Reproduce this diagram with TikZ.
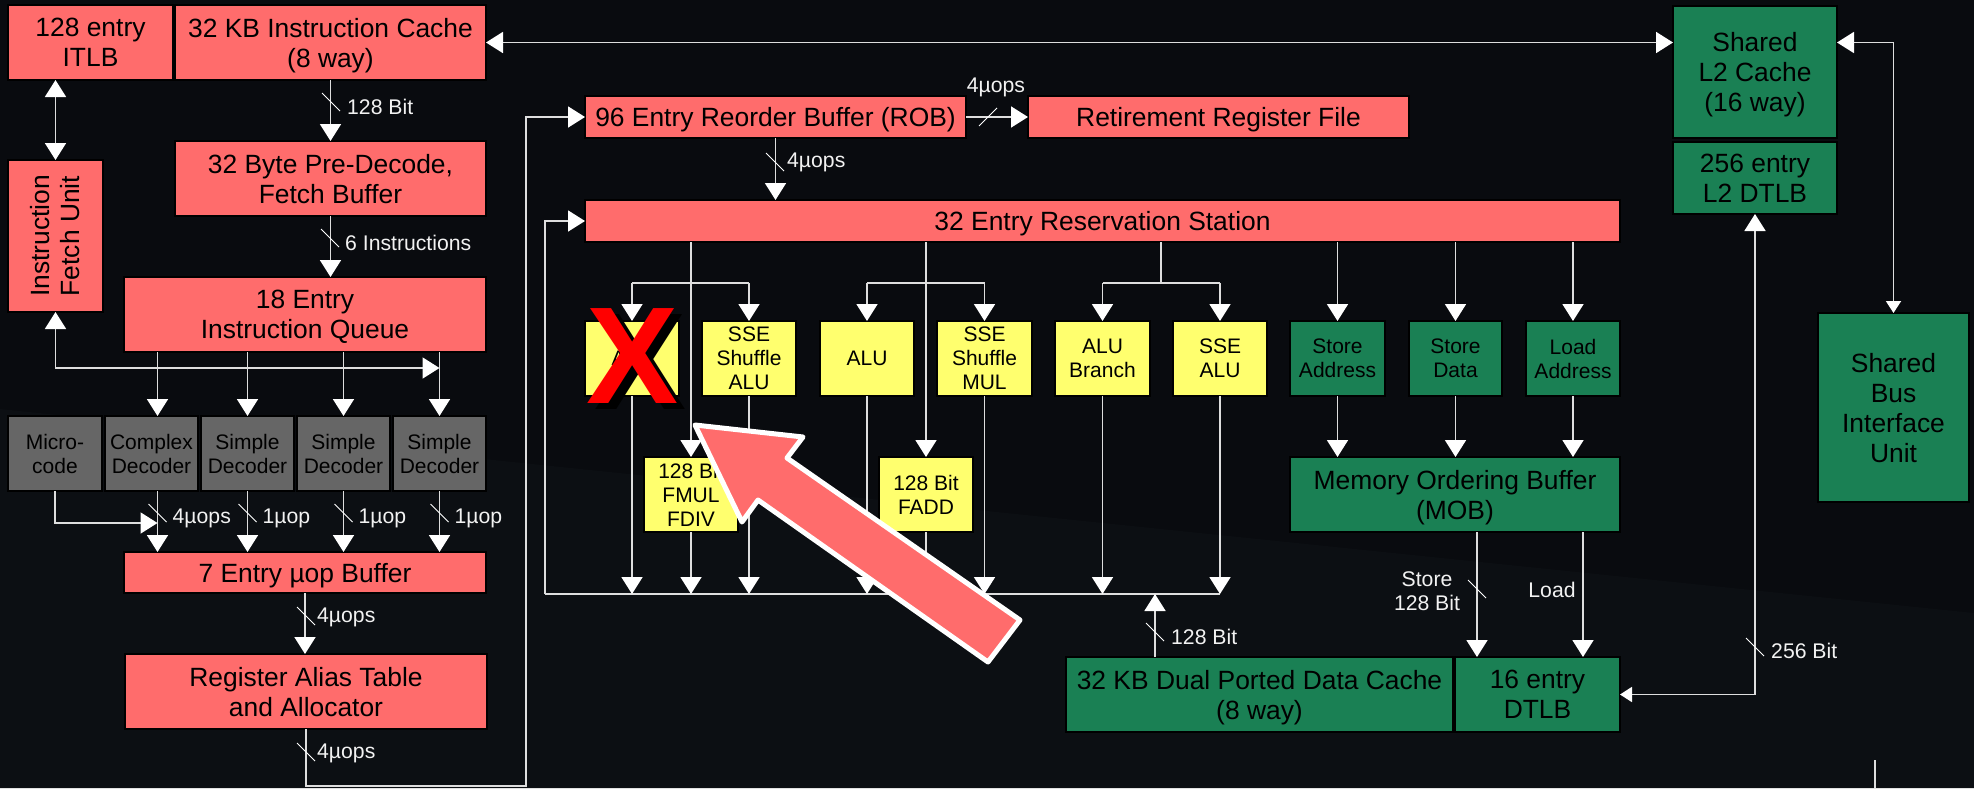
\documentclass[tikz,border=0pt]{standalone}
\usepackage{fontspec}
\setmainfont{Liberation Sans}
\usetikzlibrary{arrows.meta,calc}

\definecolor{bgbase}{RGB}{9,11,15}
\definecolor{bglow}{RGB}{12,15,19}
\definecolor{salmon}{RGB}{255,108,108}
\definecolor{lemon}{RGB}{255,255,110}
\definecolor{jade}{RGB}{26,128,84}
\definecolor{slate}{RGB}{102,102,102}
\definecolor{wire}{RGB}{222,222,222}
\definecolor{lbltext}{RGB}{242,242,242}
\definecolor{xred}{RGB}{255,0,0}

% place a box by its pixel corners (x1,y1) -- (x2,y2)
\newcommand\boxat[7]{%
  \node[#2, minimum width={(#5-#3)*1pt}, minimum height={(#6-#4)*1pt}]
    (#1) at ({(#3+#5)/2},{(#4+#6)/2}) {#7};}

\tikzset{
  tipbig/.tip={Triangle[length=17pt,width=21pt,color=white]},
  tipsm/.tip={Triangle[length=12pt,width=15pt,color=white]},
  blk/.style={draw=black, line width=1.5pt, inner sep=0pt, outer sep=0pt,
    align=center, text=black, text depth=0pt},
  bigtxt/.style={font=\fontsize{26.4}{30}\selectfont},
  smalltxt/.style={font=\fontsize{21}{24}\selectfont},
  redbox/.style={blk, bigtxt, fill=salmon},
  greenbox/.style={blk, bigtxt, fill=jade},
  greensm/.style={blk, smalltxt, fill=jade},
  yellowbox/.style={blk, smalltxt, fill=lemon},
  graybox/.style={blk, smalltxt, fill=slate},
  conn/.style={draw=wire, line width=1.8pt},
  arr/.style={conn, -tipbig},
  tick/.style={draw=white, line width=1pt},
  lbl/.style={text=lbltext, inner sep=0pt, font=\fontsize{21.2}{24}\selectfont, align=center},
}

\begin{document}
\begin{tikzpicture}[x=1pt, y=-1pt]
% backdrop
\fill[bgbase] (0,0) rectangle (1974,788);
\useasboundingbox (0,0) rectangle (1974,788);
\fill[bglow] (0,409) -- (1974,613) -- (1974,788) -- (0,788) -- cycle;

% ---------------- front end ----------------
\boxat{itlb}{redbox}{8}{5}{173}{80}{128 entry\\ITLB}
\boxat{icache}{redbox}{175}{5}{486}{80}{32 KB Instruction Cache\\(8 way)}
\boxat{predec}{redbox}{175}{141}{486}{216}{32 Byte Pre-Decode,\\Fetch Buffer}
\boxat{iq}{redbox}{124}{277}{486}{352}{18 Entry\\Instruction Queue}
\boxat{ifu}{redbox}{8}{160}{103}{312}{}
\node[bigtxt, rotate=90, align=center, text=black, inner sep=0pt] (ifutext) at (ifu.center) {Instruction\\Fetch Unit};

\boxat{mc}{graybox}{8}{416}{102}{491}{Micro-\\code}
\boxat{cx}{graybox}{105}{416}{198}{491}{Complex\\Decoder}
\boxat{sd1}{graybox}{201}{416}{294}{491}{Simple\\Decoder}
\boxat{sd2}{graybox}{297}{416}{390}{491}{Simple\\Decoder}
\boxat{sd3}{graybox}{393}{416}{486}{491}{Simple\\Decoder}

\boxat{uopbuf}{redbox}{124}{552}{486}{593}{7 Entry µop Buffer}
\boxat{rat}{redbox}{125}{654}{487}{729}{Register Alias Table\\and Allocator}

% ---------------- out-of-order core ----------------
\boxat{rob}{redbox}{585}{96}{966}{138}{96 Entry Reorder Buffer (ROB)}
\boxat{rrf}{redbox}{1028}{96}{1409}{138}{Retirement Register File}
\boxat{rs}{redbox}{585}{200}{1620}{242}{32 Entry Reservation Station}

\boxat{alu0}{yellowbox}{585}{321}{679}{396}{ALU}
\boxat{ssea}{yellowbox}{702}{321}{796}{396}{SSE\\Shuffle\\ALU}
\boxat{alu1}{yellowbox}{820}{321}{914}{396}{ALU}
\boxat{ssem}{yellowbox}{937}{321}{1032}{396}{SSE\\Shuffle\\MUL}
\boxat{alub}{yellowbox}{1055}{321}{1150}{396}{ALU\\Branch}
\boxat{sseb}{yellowbox}{1173}{321}{1267}{396}{SSE\\ALU}
\boxat{fmul}{yellowbox}{644}{457}{738}{532}{128 Bit\\FMUL\\FDIV}
\boxat{fadd}{yellowbox}{879}{457}{973}{532}{128 Bit\\FADD}

\boxat{sta}{greensm}{1290}{321}{1385}{396}{Store\\Address}
\boxat{std}{greensm}{1409}{321}{1502}{396}{Store\\Data}
\boxat{lda}{greensm}{1526}{321}{1620}{396}{Load\\Address}
\boxat{mob}{greenbox}{1290}{457}{1620}{532}{Memory Ordering Buffer\\(MOB)}
\boxat{dcache}{greenbox}{1066}{657}{1453}{732}{32 KB Dual Ported Data Cache\\(8 way)}
\boxat{dtlb}{greenbox}{1455}{657}{1620}{732}{16 entry\\DTLB}

% ---------------- shared level ----------------
\boxat{l2}{greenbox}{1673}{6}{1837}{138}{Shared\\L2 Cache\\(16 way)}
\boxat{l2tlb}{greenbox}{1673}{142}{1837}{214}{256 entry\\L2 DTLB}
\boxat{biu}{greenbox}{1818}{313}{1969}{502}{Shared\\Bus\\Interface\\Unit}

% ---------------- connectors: front end ----------------
\draw[conn, tipbig-tipbig] (icache.east) -- (icache.east -| l2.west);
\draw[conn, tipbig-tipsm] (l2.east |- icache.east) -| (biu.north);
\draw[conn, tipbig-tipbig] (ifu.north) -- (ifu.north |- itlb.south);

\draw[arr] (icache.south) -- (icache.south |- predec.north);
\draw[tick] (331,102) +(-9,-9) -- +(9,9);
\node[lbl, anchor=west] (l128a) at (347,107) {128 Bit};

\draw[arr] (predec.south) -- (predec.south |- iq.north);
\draw[tick] (330,238) +(-9,-9) -- +(9,9);
\node[lbl, anchor=west] (l6i) at (345,243) {6 Instructions};

\coordinate (lane1) at ($(cx.north)+(6,0)$);
\coordinate (lane2) at (sd1.north);
\coordinate (lane3) at (sd2.north);
\coordinate (lane4) at (sd3.north);
\foreach \l in {lane1,lane2,lane3,lane4}{
  \draw[arr] (iq.south -| \l) -- (\l);
  \draw[arr] (\l |- cx.south) -- (\l |- uopbuf.north);
}
\draw[conn, tipbig-tipbig] (ifu.south) |- ($(iq.south -| sd3.north)+(0,16)$);
\draw[arr] (mc.south) |- ($(lane1 |- uopbuf.north)+(0,-29)$);

\foreach \l/\t/\n in {lane1/4µops/d1,lane2/1µop/d2,lane3/1µop/d3,lane4/1µop/d4}{
  \draw[tick] ($(\l |- cx.south)+(0,22)$) +(-9,-9) -- +(9,9);
  \node[lbl, anchor=west] (lbl\n) at ($(\l |- cx.south)+(15,27)$) {\t};
}

\draw[arr] (uopbuf.south) -- (uopbuf.south |- rat.north);
\draw[tick] (306,616) +(-9,-9) -- +(9,9);
\node[lbl, anchor=west] (lrat) at (317,617) {4µops};

\draw[arr] (rat.south) -- ++(0,57) -| ($(rob.west)+(-59,0)$) -- (rob.west);
\draw[tick] (306,752) +(-9,-9) -- +(9,9);
\node[lbl, anchor=west] (lalloc) at (317,753) {4µops};

% ---------------- connectors: core ----------------
\draw[arr] (rob.east) -- (rrf.west);
\draw[tick] (988,117) +(-9,9) -- +(9,-9);
\node[lbl] (lret) at (996,87) {4µops};

\draw[arr] (rob.south) -- (rob.south |- rs.north);
\draw[tick] (775,162) +(-9,-9) -- +(9,9);
\node[lbl, anchor=west] (lrs) at (787,162) {4µops};

% result bus
\coordinate (busL) at (545,594);
\coordinate (busR) at (sseb.south |- busL);
\draw[conn] (busL) -- (busR);
\draw[arr] (busL) -- (busL |- rs.west) -- (rs.west);

% dispatch ports
\draw[arr] (fmul.north |- rs.south) -- (fmul.north);
\draw[arr] (fadd.north |- rs.south) -- (fadd.north);
\coordinate (fork3) at ($(alub.north)!0.5!(sseb.north)+(0,-38)$);
\draw[conn] (fork3 |- rs.south) -- (fork3);
\foreach \a/\b in {alu0/ssea, alu1/ssem, alub/sseb}{
  \draw[conn] ($(\a.north)+(0,-38)$) -- ($(\b.north)+(0,-38)$);
  \draw[arr] ($(\a.north)+(0,-38)$) -- (\a.north);
  \draw[arr] ($(\b.north)+(0,-38)$) -- (\b.north);
}
\foreach \u in {sta,std,lda}{
  \draw[arr] (\u.north |- rs.south) -- (\u.north);
  \draw[arr] (\u.south) -- (\u.south |- mob.north);
}
\foreach \u in {alu0,ssea,alu1,ssem,alub,sseb,fmul,fadd}{
  \draw[arr] (\u.south) -- (\u.south |- busL);
}

% memory side
\coordinate (dup) at ($(dcache.north west)+(89,0)$);
\draw[arr] (dup) -- (dup |- busL);
\draw[tick] (1155,632) +(-9,-9) -- +(9,9);
\node[lbl, anchor=west] (l128b) at (1171,637) {128 Bit};

\coordinate (stx) at ($(dtlb.north west)+(22,0)$);
\coordinate (ldx) at ($(dtlb.north east)+(-37,0)$);
\draw[arr] (stx |- mob.south) -- (stx);
\draw[arr] (ldx |- mob.south) -- (ldx);
\draw[tick] (1477,589) +(-9,-9) -- +(9,9);
\node[lbl] (lstore) at (1427,591) {Store\\128 Bit};
\node[lbl] (lload) at (1552,590) {Load};

\draw[conn, tipbig-tipsm] (l2tlb.south) |- (dtlb.east);
\draw[tick] (1755,647) +(-9,-9) -- +(9,9);
\node[lbl, anchor=west] (l256) at (1771,651) {256 Bit};

\coordinate (stub) at (1875,760);
\draw[conn] (stub) -- (stub |- 0,788);

% ---------------- highlight marks ----------------
\node[inner sep=0pt, font=\fontsize{138}{138}\selectfont\bfseries, text=black] (xshade) at (641,362) {X};
\node[inner sep=0pt, font=\fontsize{138}{138}\selectfont\bfseries, text=xred] (xmark) at (633,356) {X};

\draw[white, line width=5pt, line join=round, fill=salmon]
  (695,425) -- (803,437) -- (787,458) -- (1020,620) -- (988,662)
  -- (758,500) -- (742,522) -- cycle;
\end{tikzpicture}
\end{document}
